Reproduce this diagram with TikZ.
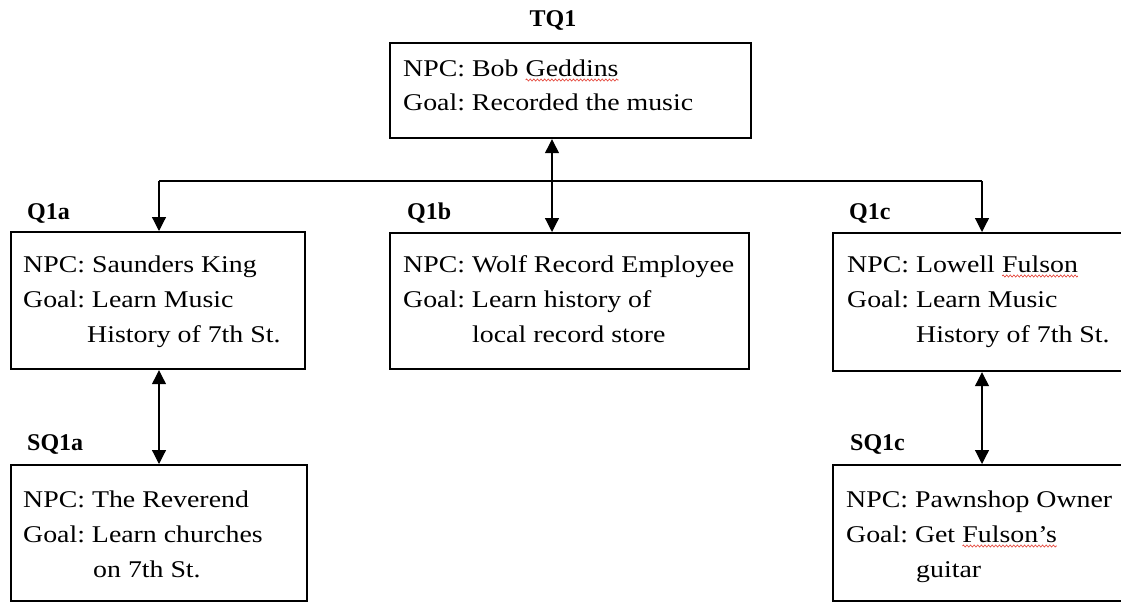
\documentclass[tikz,border=0pt]{standalone}
\usepackage{fontspec}
\setmainfont{Liberation Serif}
\newfontfamily\bodyfont[FakeStretch=1.16]{Liberation Serif}
\usepackage{xcolor}
\usetikzlibrary{arrows.meta,decorations.pathmorphing}
\definecolor{spellred}{RGB}{228,64,52}
\frenchspacing

% red wavy underline (spell-check style)
\newcommand\spellwave[1]{\tikz[baseline=(w.base)]{%
  \node[inner sep=0pt, outer sep=0pt, anchor=base, draw=none] (w) {#1};
  \draw[spellred, line width=0.6pt, decorate,
        decoration={zigzag, amplitude=1.1pt, segment length=3.6pt}]
    ([yshift=-4pt]w.base west) -- ([yshift=-4pt]w.base east);}}

\tikzset{
  qbox/.style={draw, line width=2.2pt, anchor=north west, inner sep=0pt},
  qtag/.style={font=\bfseries\fontsize{24}{28}\selectfont, inner sep=0pt},
  qtext/.style={anchor=base west, inner sep=0pt, font=\bodyfont\fontsize{24}{35}\selectfont\frenchspacing},
  link/.style={line width=1.2pt},
  oneway/.style={link, -{Triangle[length=14pt,width=14pt]}},
  twoway/.style={link, {Triangle[length=14pt,width=14pt]}-{Triangle[length=14pt,width=14pt]}},
}

\begin{document}
\begin{tikzpicture}[x=1pt,y=-1pt]
  \path[use as bounding box, fill=white] (0,0) rectangle (1121,602);

  % quest boxes
  \node[qbox, minimum width=361pt, minimum height=95pt]  (tq1)  at (389,42)  {};
  \node[qbox, minimum width=294pt, minimum height=137pt] (q1a)  at (10,231)  {};
  \node[qbox, minimum width=359pt, minimum height=136pt] (q1b)  at (389,232) {};
  \node[qbox, minimum width=310pt, minimum height=138pt] (q1c)  at (832,232) {};
  \node[qbox, minimum width=296pt, minimum height=136pt] (sq1a) at (10,464)  {};
  \node[qbox, minimum width=310pt, minimum height=136pt] (sq1c) at (832,464) {};

  % titles
  \node[qtag, anchor=base]      (ttq1)  at (553,27)  {TQ1};
  \node[qtag, anchor=base west] (tq1a)  at (27,219)  {Q1a};
  \node[qtag, anchor=base west] (tq1b)  at (407,219) {Q1b};
  \node[qtag, anchor=base west] (tq1c)  at (849,219) {Q1c};
  \node[qtag, anchor=base west] (tsq1a) at (27,450)  {SQ1a};
  \node[qtag, anchor=base west] (tsq1c) at (850,450) {SQ1c};

  % box contents
  \node[qtext] (xtq1) at (403,76) {\vtop{%
      \hbox{NPC: Bob \spellwave{Geddins}}
      \hbox{Goal: Recorded the music}}};
  \node[qtext] (xq1a) at (23,272) {\vtop{%
      \hbox{NPC: Saunders King}
      \hbox{Goal: Learn Music}
      \hbox{\hspace*{64pt}History of 7th St.}}};
  \node[qtext] (xq1b) at (403,272) {\vtop{%
      \hbox{NPC: Wolf Record Employee}
      \hbox{Goal: Learn history of}
      \hbox{\hspace*{69pt}local record store}}};
  \node[qtext] (xq1c) at (847,272) {\vtop{%
      \hbox{NPC: Lowell \spellwave{Fulson}}
      \hbox{Goal: Learn Music}
      \hbox{\hspace*{69pt}History of 7th St.}}};
  \node[qtext] (xsq1a) at (23,507) {\vtop{%
      \hbox{NPC: The Reverend}
      \hbox{Goal: Learn churches}
      \hbox{\hspace*{70pt}on 7th St.}}};
  \node[qtext] (xsq1c) at (846,507) {\vtop{%
      \hbox{NPC: Pawnshop Owner}
      \hbox{Goal: Get \spellwave{Fulson’s}}
      \hbox{\hspace*{70pt}guitar}}};

  % connectors
  \coordinate (ja) at (159,181);
  \coordinate (jb) at (552,181);
  \coordinate (jc) at (982,181);
  \draw[link] (ja) -- (jc);
  \draw[oneway] (ja) -- (q1a.north -| ja);
  \draw[oneway] (jc) -- (q1c.north -| jc);
  \draw[twoway] (tq1.south -| jb) -- (q1b.north -| jb);
  \draw[twoway] (q1a.south -| ja) -- (sq1a.north -| ja);
  \draw[twoway] (q1c.south -| jc) -- (sq1c.north -| jc);
\end{tikzpicture}
\end{document}
